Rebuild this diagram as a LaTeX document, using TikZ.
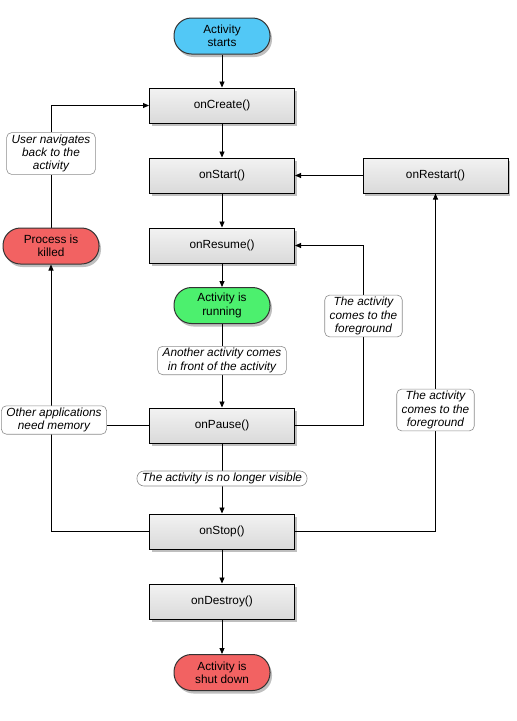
\documentclass[tikz,border=0pt]{standalone}
\usepackage{fontspec}
\setmainfont{Liberation Sans}
\usetikzlibrary{arrows.meta,shadows,backgrounds}
\definecolor{startblue}{RGB}{82,200,246}
\definecolor{rungreen}{RGB}{76,240,110}
\definecolor{killred}{RGB}{242,98,98}
\definecolor{boxtop}{RGB}{242,242,242}
\definecolor{boxbot}{RGB}{218,218,218}
\definecolor{labgray}{RGB}{140,140,140}
\begin{document}
\begin{tikzpicture}[x=1pt,y=-1pt,
  every node/.style={font=\fontsize{11.8}{13.4}\selectfont, align=center},
  method/.style={draw=black, line width=1pt, top color=boxtop, bottom color=boxbot,
    minimum width=145pt, minimum height=35pt, inner sep=0pt,
    drop shadow={shadow xshift=2pt, shadow yshift=-3pt, fill=black, opacity=0.25}},
  pill/.style={draw=black!80, line width=1pt, rounded corners=17.5pt,
    minimum width=96pt, minimum height=36pt, inner sep=0pt,
    drop shadow={shadow xshift=2pt, shadow yshift=-3pt, fill=black, opacity=0.25}},
  note/.style={draw=labgray, fill=white, line width=0.6pt, rounded corners=5pt,
    inner xsep=5pt, inner ysep=2pt, font=\fontsize{11.8}{13.4}\selectfont\itshape},
  conn/.style={draw=black, line width=0.9pt},
  arr/.style={conn, -{Triangle[length=6pt,width=5pt]}}
]
\useasboundingbox (0,0) rectangle (517,721);

\node[pill, fill=startblue] (start) at (222,36) {Activity\\starts};
\node[method] (create) at (222,105.5) {onCreate()};
\node[method] (onstart) at (222,175.5) {onStart()};
\node[method] (restart) at (435.5,175.5) {onRestart()};
\node[method] (resume) at (222,245.5) {onResume()};
\node[pill, fill=rungreen] (running) at (222,305.5) {Activity is\\running};
\node[note] (front) at (222,360.5) {Another activity comes\\in front of the activity};
\node[method] (pause) at (222,425.5) {onPause()};
\node[note, rounded corners=7pt] (invisible) at (222,478.5) {The activity is no longer visible};
\node[method] (stop) at (222,531.5) {onStop()};
\node[method] (destroy) at (222,601.5) {onDestroy()};
\node[pill, fill=killred] (shut) at (222,672.5) {Activity is\\shut down};
\node[pill, fill=killred] (killed) at (51,246) {Process is\\killed};
\node[note] (back) at (51,153.5) {User navigates\\back to the\\activity};
\node[note] (memory) at (54,420) {Other applications\\need memory};
\node[note] (fg1) at (363.5,316) {The activity\\comes to the\\foreground};
\node[note] (fg2) at (435.5,410) {The activity\\comes to the\\foreground};

\begin{scope}[on background layer]
\fill[white] (0,0) rectangle (517,721);
\draw[arr] (start) -- (create);
\draw[arr] (create) -- (onstart);
\draw[arr] (onstart) -- (resume);
\draw[arr] (resume) -- (running);
\draw[conn] (running) -- (front);
\draw[arr] (front) -- (pause);
\draw[conn] (pause) -- (invisible);
\draw[arr] (invisible) -- (stop);
\draw[arr] (stop) -- (destroy);
\draw[arr] (destroy) -- (shut);
\draw[arr] (restart) -- (onstart);
\draw[conn] (pause.east) -| (fg1);
\draw[arr] (fg1) |- (resume.east);
\draw[conn] (stop.east) -| (fg2);
\draw[arr] (fg2) -- (restart);
\draw[conn] (pause.west) -- (pause.west -| memory.east);
\draw[arr] (stop.west) -| (killed.south);
\draw[conn] (killed) -- (back);
\draw[arr] (back) |- (create.west);
\end{scope}
\end{tikzpicture}
\end{document}
